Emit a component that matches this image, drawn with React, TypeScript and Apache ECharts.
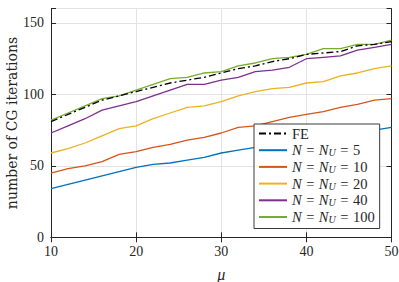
import React, { useEffect, useRef } from "react";
import * as echarts from "echarts";

const mu = [10, 12, 14, 16, 18, 20, 22, 24, 26, 28, 30, 32, 34, 36, 38, 40, 42, 44, 46, 48, 50];
const fe = [81, 86, 91, 96, 99, 102, 105, 108, 110, 112, 115, 118, 120, 123, 125, 128, 129, 130, 134, 135, 137];
const n5 = [34, 37, 40, 43, 46, 49, 51, 52, 54, 56, 59, 61, 63, 65, 67, 69, 71, 72, 74, 75, 77];
const n10 = [45, 48, 50, 53, 58, 60, 63, 65, 68, 70, 73, 77, 78, 81, 84, 86, 88, 91, 93, 96, 97];
const n20 = [59, 62, 66, 71, 76, 78, 83, 87, 91, 92, 95, 99, 102, 104, 105, 108, 109, 113, 115, 118, 120];
const n40 = [73, 78, 83, 89, 92, 95, 99, 103, 107, 107, 110, 112, 116, 117, 119, 125, 126, 127, 131, 133, 135];
const n100 = [82, 87, 92, 97, 99, 103, 107, 111, 112, 115, 116, 120, 122, 125, 126, 128, 132, 132, 135, 135, 138];
const nLabels = ["5", "10", "20", "40", "100"];
const xTicks = [10, 20, 30, 40, 50];
const yTicks = [0, 50, 100, 150];

const colors = ["#0072BD", "#D95319", "#EDB120", "#7E2F8E", "#77AC30"];
const FONT = "'Liberation Serif', 'Times New Roman', serif";
const FONT2 = "'DejaVu Serif', serif";

export default function App() {
  const ref = useRef<HTMLDivElement>(null);
  useEffect(() => {
    const chart = echarts.init(ref.current!, null, { renderer: "svg" });
    const pair = (ys: number[]) => mu.map((x, i) => [x, ys[i]]);
    const nSeries = [n5, n10, n20, n40, n100];
    const series: any[] = [
      {
        name: "FE",
        type: "line",
        data: pair(fe),
        symbol: "none",
        z: 3,
        lineStyle: { color: "#000", width: 1.3, type: [7, 3, 2, 3] },
        itemStyle: { color: "#000" },
      },
      ...nSeries.map((ys, k) => ({
        name: "N" + nLabels[k],
        type: "line",
        data: pair(ys),
        symbol: "none",
        z: 2,
        lineStyle: { color: colors[k], width: 1.3 },
        itemStyle: { color: colors[k] },
      })),
    ];
    const axisLine = { show: true, lineStyle: { color: "#262626", width: 1 } };
    chart.setOption({
      animation: false,
      backgroundColor: "#fff",
      grid: { left: 51, right: 7.5, top: 8.7, bottom: 44.7, containLabel: false, outerBoundsMode: "none" },
      xAxis: [
        {
          type: "value",
          min: 10,
          max: 50,
          interval: 10,
          name: "μ",
          nameLocation: "middle",
          nameGap: 29,
          nameMoveOverlap: false,
          nameTextStyle: { fontFamily: FONT, fontSize: 16, fontStyle: "italic", color: "#262626" },
          axisLine,
          axisTick: { inside: true, length: 5, lineStyle: { color: "#262626" } },
          axisLabel: { fontFamily: FONT, fontSize: 14, color: "#262626", margin: 7 },
          splitLine: { show: true, lineStyle: { color: "#e3e3e3", width: 1 } },
        },
        {
          type: "value",
          position: "top",
          min: 10,
          max: 50,
          interval: 10,
          axisLine,
          axisTick: { inside: true, length: 5, lineStyle: { color: "#262626" } },
          axisLabel: { show: false },
          splitLine: { show: false },
        },
      ],
      yAxis: [
        {
          type: "value",
          min: 0,
          max: 160,
          interval: 50,
          name: "number of CG iterations",
          nameLocation: "middle",
          nameGap: 32,
          nameMoveOverlap: false,
          nameTextStyle: { fontFamily: FONT2, fontSize: 14, color: "#262626" },
          axisLine,
          axisTick: { inside: true, length: 5, lineStyle: { color: "#262626" } },
          axisLabel: {
            fontFamily: FONT,
            fontSize: 14,
            color: "#262626",
            margin: 7,
            formatter: (v: number) => (yTicks.includes(v) ? String(v) : ""),
          },
          splitLine: { show: true, lineStyle: { color: "#e3e3e3", width: 1 } },
        },
        {
          type: "value",
          position: "right",
          min: 0,
          max: 160,
          interval: 50,
          axisLine,
          axisTick: { inside: true, length: 5, lineStyle: { color: "#262626" } },
          axisLabel: { show: false },
          splitLine: { show: false },
        },
      ],
      legend: {
        orient: "vertical",
        left: 254,
        top: 124,
        padding: [2, 5, 4, 4],
        itemGap: 1.7,
        itemWidth: 28,
        itemHeight: 14,
        backgroundColor: "#fff",
        borderColor: "#3a3a3a",
        borderWidth: 1,
        borderRadius: 0,
        itemStyle: { opacity: 0 },
        data: series.map((s) => s.name),
        formatter: (name: string) =>
          name === "FE" ? "{r|FE}" : `{i|N}{e|=}{i|N}{s|U}{e|=}{r|${name.slice(1)}}`,
        textStyle: {
          fontFamily: FONT,
          fontSize: 14,
          lineHeight: 15,
          color: "#262626",
          rich: {
            r: { fontFamily: FONT, fontSize: 14.5, lineHeight: 15, color: "#262626" },
            e: { fontFamily: FONT, fontSize: 14.5, lineHeight: 15, color: "#262626", padding: [0, 4.5, 0, 4.5] },
            i: { fontFamily: FONT, fontSize: 14.5, lineHeight: 15, fontStyle: "italic", color: "#262626" },
            s: { fontFamily: FONT, fontSize: 10, lineHeight: 10, fontStyle: "italic", color: "#262626", padding: [5, 0, 0, 0] },
          },
        },
      },
      series,
    });
    return () => chart.dispose();
  }, []);
  return <div ref={ref} style={{ position: "absolute", left: 0, top: 0, width: 399, height: 282 }} />;
}
